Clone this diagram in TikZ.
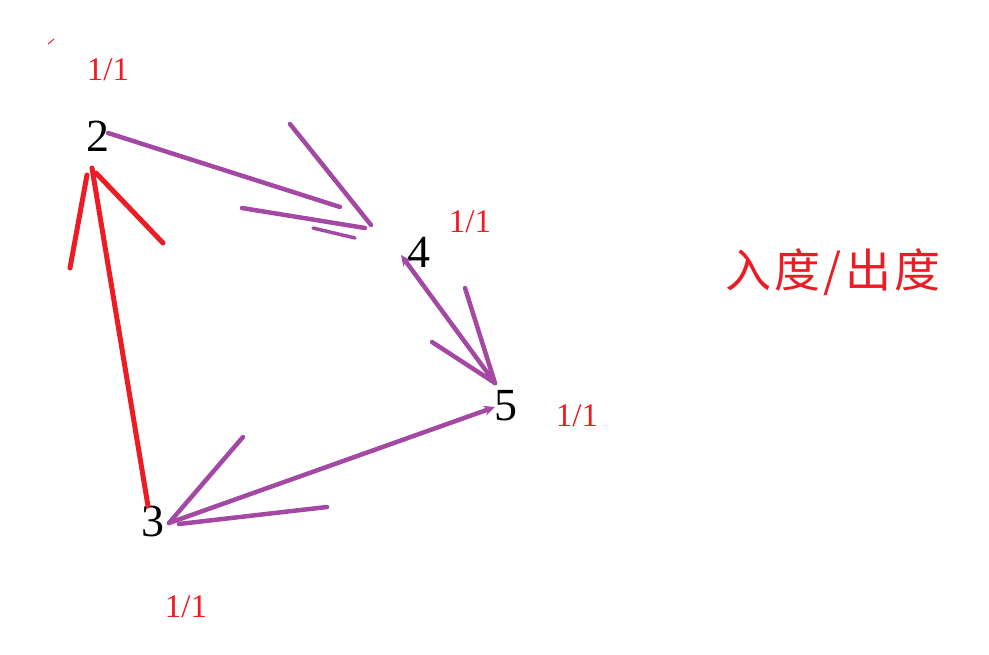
\documentclass[tikz,border=0pt]{standalone}
\usepackage{fontspec}
\setmainfont{Liberation Serif}
\newfontfamily\cjkfont[LetterSpace=7]{Noto Sans CJK SC}
\usetikzlibrary{arrows.meta}
\definecolor{penpurple}{RGB}{163,73,164}
\definecolor{penred}{RGB}{237,28,36}
\tikzset{vertex/.style={inner sep=0pt,font=\fontsize{46}{46}\selectfont},
 degree/.style={inner sep=0pt,text=penred,font=\fontsize{33}{33}\selectfont},
 stroke/.style={draw=penpurple,line width=4.5pt,line cap=round},
 redstroke/.style={stroke,draw=penred,line width=5pt},
 smalltip/.tip={Stealth[length=11pt,width=10pt]}}

\begin{document}
\begin{tikzpicture}[x=1pt,y=-1pt]
\useasboundingbox (0,0) rectangle (989,655);

% vertices
\node[vertex] (n2) at (98,136) {2};
\node[vertex] (n4) at (419,252) {4};
\node[vertex] (n5) at (506,406) {5};
\node[vertex] (n3) at (153,521) {3};

% in/out degree
\node[degree] (d2) at (108,70) {1/1};
\node[degree] (d4) at (470,222) {1/1};
\node[degree] (d5) at (577,416) {1/1};
\node[degree] (d3) at (186,607) {1/1};
\node[text=penred,inner sep=0pt,font=\cjkfont\fontsize{46}{46}\selectfont] (legend) at (833,272) {入度/出度};

% stroke ends
\coordinate (a2) at (108,133);
\coordinate (a4) at (340,207);
\coordinate (t4) at (371,225);
\coordinate (t4b) at (365,228);
\coordinate (h4a) at (290,124);
\coordinate (h4b) at (242,208);
\coordinate (s4a) at (313,228);
\coordinate (s4b) at (355,238);
\coordinate (b4) at (401,255);
\coordinate (b5) at (495,383);
\coordinate (h5a) at (465,288);
\coordinate (h5b) at (432,342);
\coordinate (c3) at (169,523);
\coordinate (c5) at (495,407);
\coordinate (h3a) at (243,437);
\coordinate (h3b) at (327,507);
\coordinate (t3) at (179,524);
\coordinate (r3) at (148,506);
\coordinate (r2) at (92,168);
\coordinate (h2a) at (70,268);
\coordinate (h2b) at (163,243);
\coordinate (t2a) at (87,175);
\coordinate (t2b) at (96,173);

% 2 -> 4
\draw[stroke] (a2)--(a4);
\draw[stroke] (h4a)--(t4);
\draw[stroke] (h4b)--(t4b);
\draw[stroke,line width=3.5pt] (s4a)--(s4b);

% 4 -> 5
\draw[stroke,smalltip-] (b4)--(b5);
\draw[stroke] (h5a)--(b5);
\draw[stroke] (h5b)--(b5);

% 5 -> 3
\draw[stroke,-smalltip] (c3)--(c5);
\draw[stroke] (h3a)--(c3);
\draw[stroke] (h3b)--(t3);

% 3 -> 2
\draw[redstroke] (r3)--(r2);
\draw[redstroke] (h2a)--(t2a);
\draw[redstroke] (h2b)--(t2b);

\draw[draw=penred,line width=1pt] (48,44)--(54,39);
\end{tikzpicture}
\end{document}
